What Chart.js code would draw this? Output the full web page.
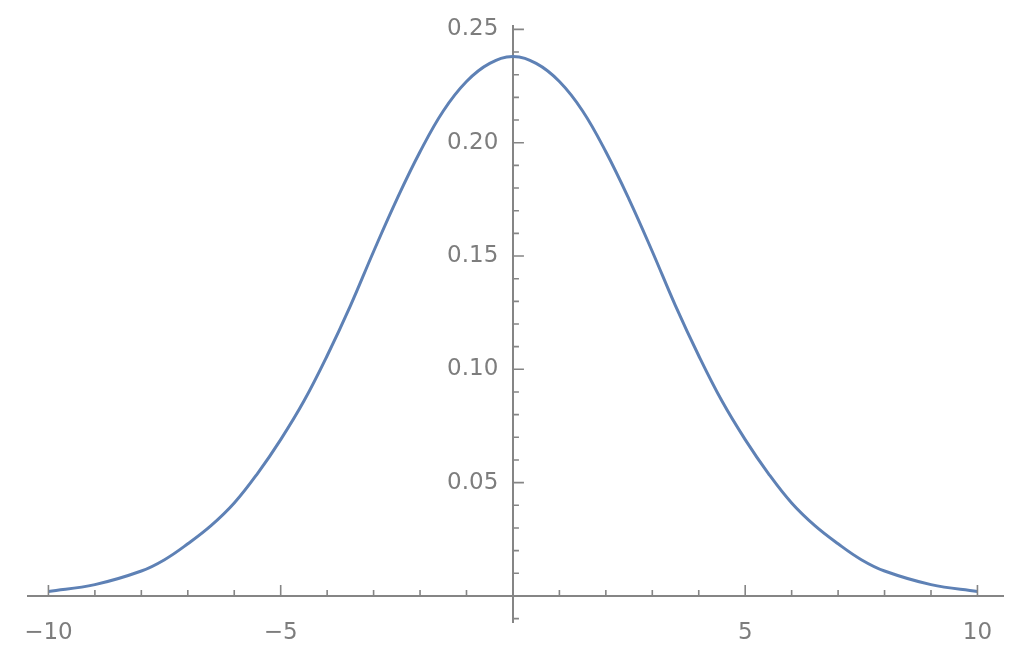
<!DOCTYPE html>
<html>
<head>
<meta charset="utf-8">
<script src="https://cdn.jsdelivr.net/npm/chart.js@4/dist/chart.umd.min.js"></script>
<style>
    html, body { margin: 0; padding: 0; background: #fff; }
    #wrap { width: 1024px; height: 649px; position: relative; }
</style>
</head>
<body>
<div id="wrap"><canvas id="curveChart"></canvas></div>
<script>
// 곡선 데이터
const xValues = [-10, -9, -8, -7.5, -7, -6.5, -6, -5.5, -5, -4.5, -4, -3.5, -3, -2.5, -2, -1.5, -1, -0.5,
    0, 0.5, 1, 1.5, 2, 2.5, 3, 3.5, 4, 4.5, 5, 5.5, 6, 6.5, 7, 7.5, 8, 9, 10];
const yValues = [0.002, 0.005, 0.011, 0.016, 0.023, 0.031, 0.041, 0.054, 0.069, 0.086, 0.106, 0.128, 0.152, 0.175, 0.196, 0.214, 0.227, 0.235,
    0.238, 0.235, 0.227, 0.214, 0.196, 0.175, 0.152, 0.128, 0.106, 0.086, 0.069, 0.054, 0.041, 0.031, 0.023, 0.016, 0.011, 0.005, 0.002];

// 눈금 라벨
const xTickLabels = [-10, -5, 5, 10];
const yTickLabels = [0.05, 0.10, 0.15, 0.20, 0.25];

const axisColor = '#858585';
const labelColor = '#7d7d7d';

// Mathematica 스타일 눈금 (축 안쪽으로)
const tickMarks = {
    id: 'tickMarks',
    afterDraw(chart) {
        const { ctx, scales } = chart;
        const x0 = scales.x.getPixelForValue(0);
        const y0 = scales.y.getPixelForValue(0);
        ctx.save();
        ctx.strokeStyle = axisColor;
        ctx.lineWidth = 1.6;
        ctx.beginPath();
        for (let i = -10; i <= 10; i++) {
            if (i === 0) continue;
            const px = scales.x.getPixelForValue(i);
            const len = i % 5 === 0 ? 11 : 6;
            ctx.moveTo(px, y0);
            ctx.lineTo(px, y0 - len);
        }
        for (let j = -1; j <= 25; j++) {
            if (j === 0) continue;
            const py = scales.y.getPixelForValue(j / 100);
            const len = j % 5 === 0 ? 11 : 6;
            ctx.moveTo(x0, py);
            ctx.lineTo(x0 + len, py);
        }
        ctx.stroke();
        ctx.restore();
    },
};

const ctx = document.getElementById('curveChart').getContext('2d');

new Chart(ctx, {
    type: 'scatter',
    data: {
        datasets: [
            {
                data: xValues.map((x, i) => ({ x: x, y: yValues[i] })),
                showLine: true,
                borderColor: '#5e81b5',
                borderWidth: 3,
                pointRadius: 0,
                tension: 0.4,
            },
        ],
    },
    options: {
        responsive: true,
        maintainAspectRatio: false,
        animation: false,
        layout: { padding: { left: 28, right: 21, top: 26, bottom: 27 } },
        plugins: {
            legend: { display: false },
            tooltip: { enabled: false },
        },
        scales: {
            x: {
                type: 'linear',
                position: { y: 0 },
                min: -10.44,
                max: 10.55,
                afterBuildTicks: (scale) => {
                    scale.ticks = xTickLabels.map((v) => ({ value: v }));
                },
                grid: { display: false },
                border: { display: true, color: axisColor, width: 2 },
                ticks: {
                    autoSkip: false,
                    maxRotation: 0,
                    padding: 15,
                    color: labelColor,
                    font: { family: 'DejaVu Sans', size: 23 },
                    callback: (v) => (v < 0 ? '\u2212' + Math.abs(v) : String(v)),
                },
            },
            y: {
                type: 'linear',
                position: { x: 0 },
                min: -0.0115,
                max: 0.2515,
                afterBuildTicks: (scale) => {
                    scale.ticks = yTickLabels.map((v) => ({ value: v }));
                },
                grid: { display: false },
                border: { display: true, color: axisColor, width: 2 },
                ticks: {
                    autoSkip: false,
                    color: labelColor,
                    font: { family: 'DejaVu Sans', size: 23 },
                    // 축과 라벨 사이 여백
                    callback: (v) => v.toFixed(2) + '  ',
                },
            },
        },
    },
    plugins: [tickMarks],
});
</script>
</body>
</html>
